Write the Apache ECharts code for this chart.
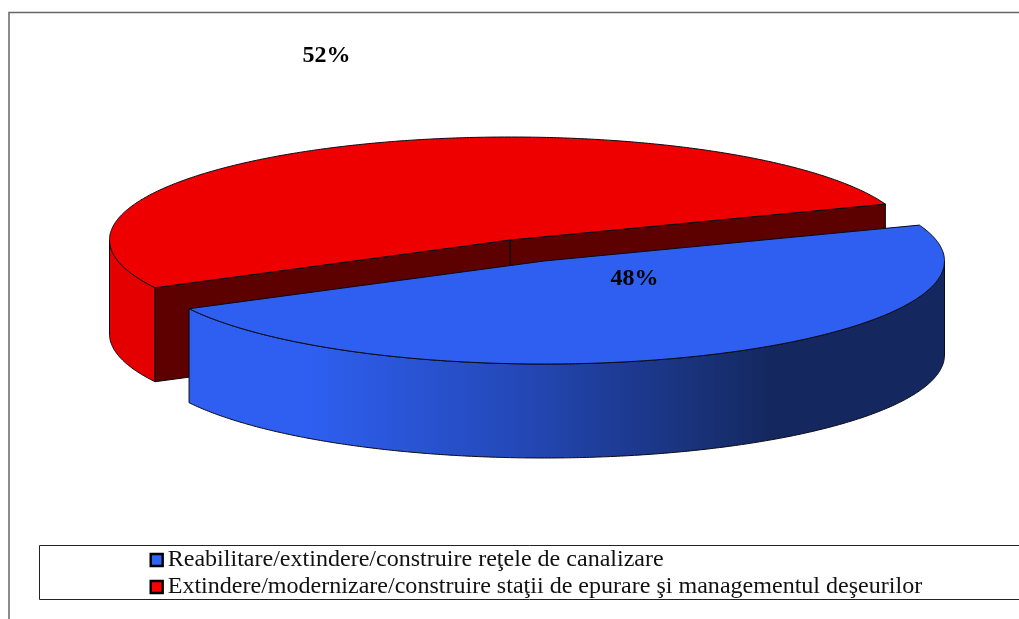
<!DOCTYPE html>
<html><head><meta charset="utf-8">
<style>html,body{margin:0;padding:0;background:#fff}#c{width:1019px;height:619px}</style>
<script src="https://cdn.jsdelivr.net/npm/echarts@6/dist/echarts.min.js"></script>
</head><body><div id="c"></div>
<script>
const categories = [
  'Reabilitare/extindere/construire reţele de canalizare',
  'Extindere/modernizare/construire staţii de epurare şi managementul deşeurilor'
];
const shares = [48, 52];
const topColors = ['#2e5ff0', '#ee0000'];
const legendColors = ['#2f63f8', '#ff0000'];

const CX = 510, CY = 240, RX = 400.5, RY = 103, DEPTH = 94;
const RED_START = 20.4;              // where the red slice begins, counter-clockwise, degrees
const OFFSET = [[34, 21], [0, 0]];   // blue slice is pulled out
const LABEL_POS = [[634.5, 278.5], [326.5, 55.5]];
const EDGE = { stroke: '#0a0a14', lineWidth: 1 };

function angleRange(i) {
  const total = shares[0] + shares[1];
  const redSweep = shares[1] / total * 360, blueSweep = shares[0] / total * 360;
  return i === 1 ? [RED_START, RED_START + redSweep]
                 : [RED_START + redSweep, RED_START + redSweep + blueSweep];
}
function pt(deg, o, dz) {
  const r = deg * Math.PI / 180;
  return [CX + o[0] + RX * Math.cos(r), CY + o[1] - RY * Math.sin(r) + (dz || 0)];
}
function arc(a, b, o, dz) {
  const n = Math.max(2, Math.ceil(Math.abs(b - a) * 2)), out = [];
  for (let k = 0; k <= n; k++) out.push(pt(a + (b - a) * k / n, o, dz));
  return out;
}
function poly(points, fill) {
  return { type: 'polygon', shape: { points }, style: Object.assign({ fill }, EDGE) };
}
function wall(a, b, o, fill) {
  return poly(arc(a, b, o, 0).concat(arc(b, a, o, DEPTH)), fill);
}
const blueGradient = {
  type: 'linear', global: true, x: 188, y: 0, x2: 945, y2: 0,
  colorStops: [
    { offset: 0, color: '#2e5ff0' }, { offset: 0.16, color: '#2e5ff0' },
    { offset: 0.45, color: '#2347b4' }, { offset: 0.77, color: '#14285f' },
    { offset: 1, color: '#14285f' }
  ]
};
function renderSlice(i) {
  const [a, b] = angleRange(i), o = OFFSET[i], c = [CX + o[0], CY + o[1]], kids = [];
  if (i === 1) {
    const dark = '#5c0000';
    kids.push(wall(180, b, o, '#e40000'));
    const right = pt(a, o), left = pt(b, o);
    kids.push(poly([c, right, [right[0], right[1] + DEPTH], [c[0], c[1] + DEPTH]], dark));
    kids.push(poly([c, left, [left[0], left[1] + DEPTH], [c[0], c[1] + DEPTH]], dark));
  } else {
    kids.push(wall(a, 360, o, blueGradient));
  }
  kids.push(poly([c].concat(arc(a, b, o, 0)), topColors[i]));
  kids.push({
    type: 'text', z2: 10,
    style: {
      text: shares[i] + '%', x: LABEL_POS[i][0], y: LABEL_POS[i][1],
      align: 'center', verticalAlign: 'middle', fill: '#000',
      font: 'bold 24px "Liberation Serif"'
    }
  });
  return { type: 'group', children: kids };
}
const chart = echarts.init(document.getElementById('c'), null, { renderer: 'canvas' });
const order = [1, 0];
chart.setOption({
  animation: false,
  backgroundColor: '#fff',
  tooltip: { show: false },
  legend: {
    orient: 'vertical', left: 149.5, top: 548, padding: 0, itemGap: 3,
    itemWidth: 12, itemHeight: 12, icon: 'rect', selectedMode: false,
    data: categories.map((name, i) => ({
      name, itemStyle: { color: legendColors[i], borderColor: '#000', borderWidth: 2.4 }
    })),
    textStyle: { fontFamily: 'Liberation Serif', fontSize: 24.05, color: '#111', padding: [0, 0, 0, 0] }
  },
  graphic: [
    { type: 'rect', silent: true, shape: { x: 9, y: 12.5, width: 1100, height: 700 },
      style: { fill: 'none', stroke: '#666', lineWidth: 1.5 } },
    { type: 'rect', silent: true, shape: { x: 39.5, y: 545.5, width: 1100, height: 54 },
      style: { fill: 'none', stroke: '#222', lineWidth: 1 } }
  ],
  series: order.map(i => ({
    type: 'custom',
    name: categories[i],
    coordinateSystem: 'none',
    itemStyle: { color: legendColors[i] },
    data: [[shares[i]]],
    renderItem: () => renderSlice(i)
  }))
});
</script></body></html>
